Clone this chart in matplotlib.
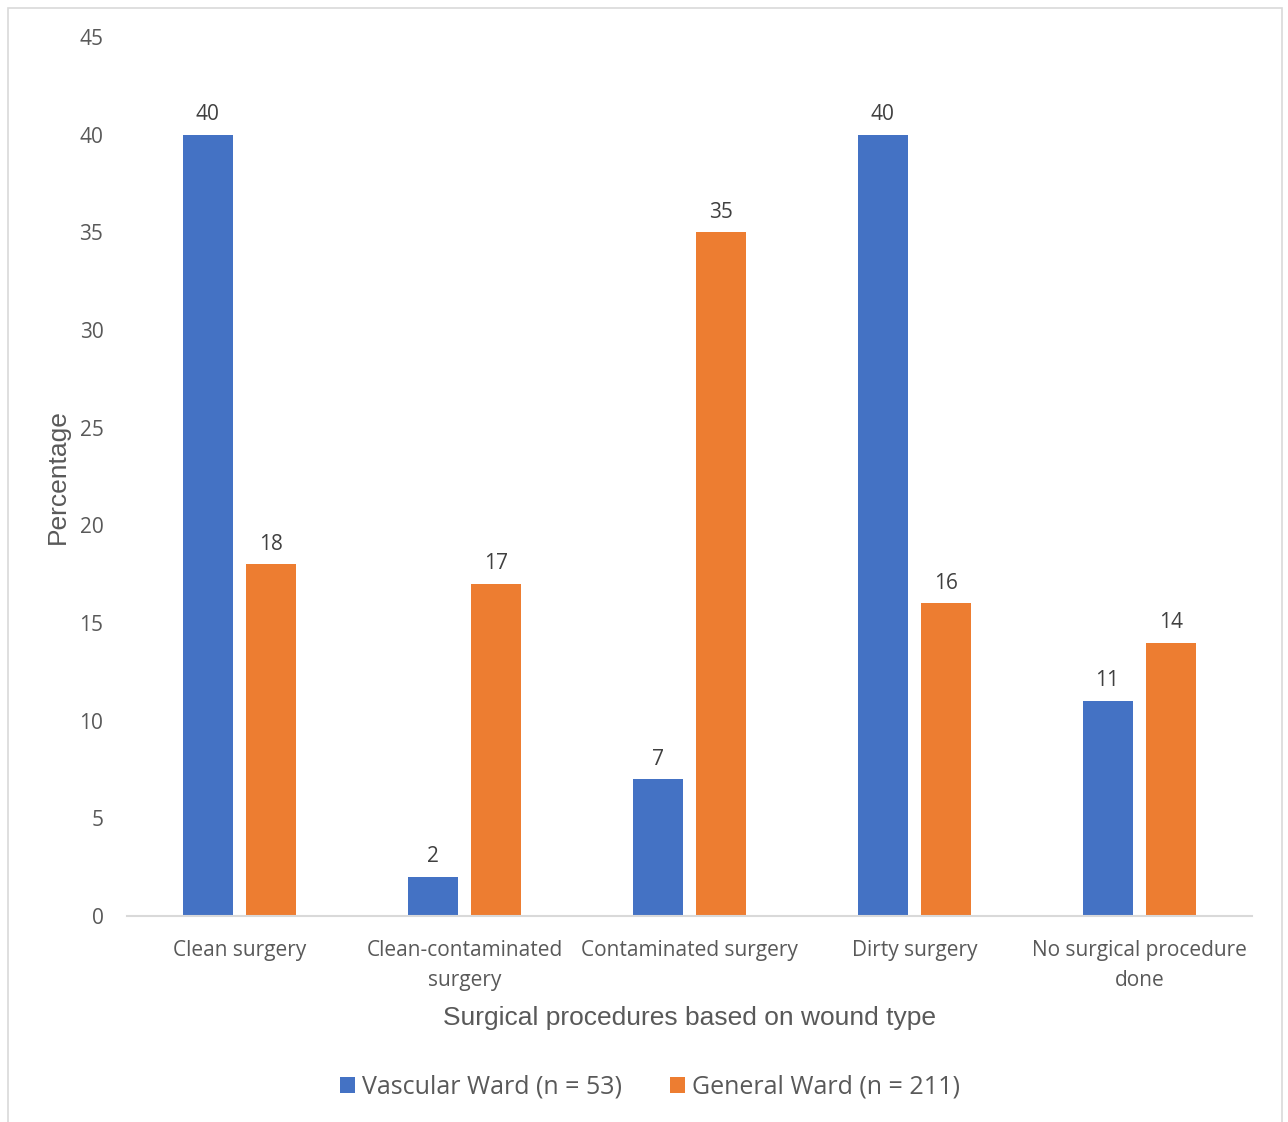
import matplotlib
matplotlib.use("Agg")
import matplotlib.pyplot as plt
import numpy as np
from matplotlib.patches import Rectangle

categories = ["Clean surgery", "Clean-contaminated\nsurgery", "Contaminated surgery",
              "Dirty surgery", "No surgical procedure\ndone"]
vascular = [40, 2, 7, 40, 11]
general = [18, 17, 35, 16, 14]
series_names = ["Vascular Ward (n = 53)", "General Ward (n = 211)"]
yticks = [0, 5, 10, 15, 20, 25, 30, 35, 40, 45]

blue = "#4472C4"
orange = "#ED7D31"
gray = "#595959"

W, H = 1288, 1122
fig = plt.figure(figsize=(W / 100, H / 100), dpi=100)
ax = fig.add_axes([127 / W, 1 - 916 / H, (1252 - 127) / W, (916 - 37) / H])

x = np.arange(len(categories))
bw = 0.222
off = 0.142
b1 = ax.bar(x - off, vascular, bw, color=blue, label=series_names[0])
b2 = ax.bar(x + off, general, bw, color=orange, label=series_names[1])

for bars, vals in ((b1, vascular), (b2, general)):
    for r, v in zip(bars, vals):
        ax.annotate(str(v), (r.get_x() + r.get_width() / 2, v), xytext=(0, 7),
                    textcoords="offset points", ha="center", va="bottom",
                    fontsize=15, color="#404040", family="Open Sans")

ax.set_xlim(-0.5, len(categories) - 0.5)
ax.set_ylim(0, 45)
ax.set_yticks(yticks)
ax.set_xticks(x)
ax.set_xticklabels(categories, fontsize=15, color=gray, family="Open Sans", linespacing=1.6)
ax.set_yticklabels([str(t) for t in yticks], fontsize=15, color=gray, family="Open Sans")
ax.tick_params(axis="both", length=0)
ax.tick_params(axis="y", pad=17)
ax.tick_params(axis="x", pad=17)
for s in ("top", "right", "left"):
    ax.spines[s].set_visible(False)
ax.spines["bottom"].set_color("#D9D9D9")
ax.spines["bottom"].set_linewidth(1.5)

ax.set_ylabel("Percentage", fontsize=19, color=gray, family="Liberation Sans", labelpad=7)
ax.set_xlabel("Surgical procedures based on wound type", fontsize=19, color=gray,
              family="Liberation Sans", labelpad=11)

leg = fig.legend(handles=[b1, b2], labels=series_names, loc="center",
                 bbox_to_anchor=(650 / W, 1 - 1087 / H), ncol=2, frameon=False,
                 prop={"family": "Open Sans", "size": 18}, handlelength=0.6,
                 handleheight=0.6, handletextpad=0.3, columnspacing=1.9)
for t in leg.get_texts():
    t.set_color(gray)

fig.patches.append(Rectangle((8 / W, -0.05), (1282 - 8) / W, 1.05 - 8 / H,
                             transform=fig.transFigure, fill=False,
                             edgecolor="#D9D9D9", linewidth=1.2))

fig.savefig("out.png", dpi=100)
